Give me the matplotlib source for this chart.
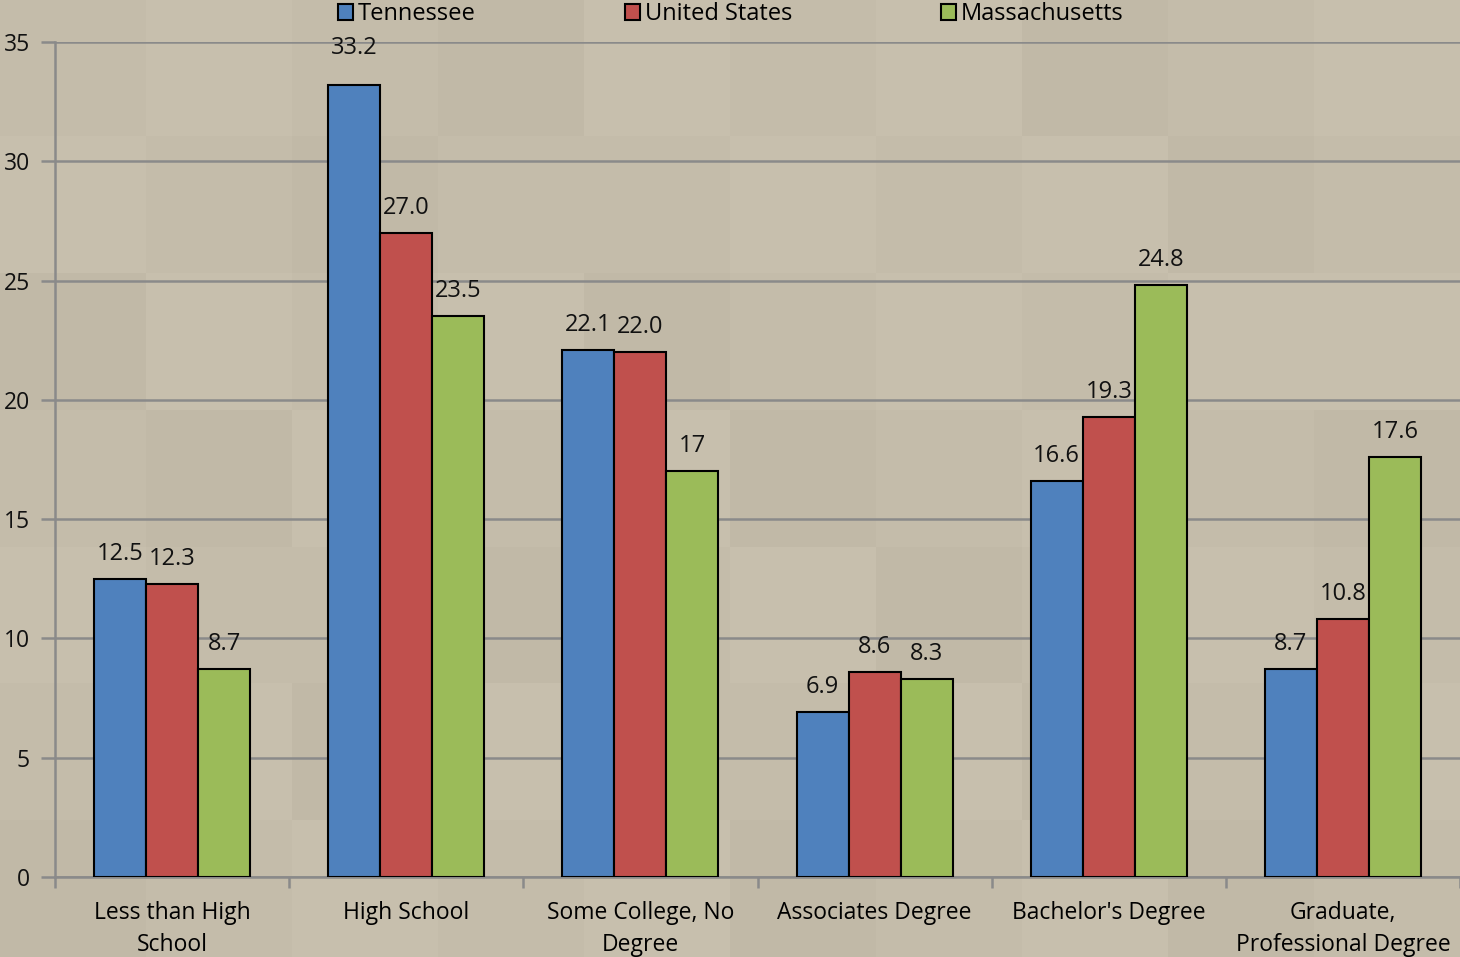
import matplotlib.pyplot as plt
import numpy as np
from matplotlib.colors import ListedColormap

plt.rcParams['font.family'] = ['Open Sans', 'DejaVu Sans']

categories = ["Less than High\nSchool", "High School", "Some College, No\nDegree",
              "Associates Degree", "Bachelor's Degree", "Graduate,\nProfessional Degree"]
tennessee = [12.5, 33.2, 22.1, 6.9, 16.6, 8.7]
united_states = [12.3, 27.0, 22.0, 8.6, 19.3, 10.8]
massachusetts = [8.7, 23.5, 17.0, 8.3, 24.8, 17.6]
tn_labels = ["12.5", "33.2", "22.1", "6.9", "16.6", "8.7"]
us_labels = ["12.3", "27.0", "22.0", "8.6", "19.3", "10.8"]
ma_labels = ["8.7", "23.5", "17", "8.3", "24.8", "17.6"]

bg = '#c4bcaa'
fig = plt.figure(figsize=(14.6, 9.57), dpi=100, facecolor=bg)

# faint tiled backdrop
bgax = fig.add_axes([0, 0, 1, 1], zorder=-10)
tiles = np.array([[0, 1, 0, 2, 1, 0, 1, 2, 0, 1],
                  [1, 0, 2, 0, 0, 1, 0, 1, 2, 0],
                  [2, 1, 0, 1, 2, 0, 1, 0, 1, 1],
                  [0, 2, 1, 0, 1, 2, 0, 1, 0, 2],
                  [1, 0, 0, 2, 0, 1, 2, 0, 1, 0],
                  [0, 1, 2, 1, 0, 0, 1, 2, 0, 1],
                  [2, 0, 1, 0, 1, 2, 0, 1, 2, 0]])
bgax.imshow(tiles, cmap=ListedColormap(['#c4bcaa', '#c7bfad', '#c1b9a7']),
            aspect='auto', interpolation='nearest', extent=[0, 1, 0, 1])
bgax.axis('off')

ax = fig.add_axes([55/1460, 1 - 877/957, 1405/1460, 835/957])
ax.patch.set_alpha(0)

ymax = 35
lift = 1.05        # label centre above bar top, data units
cap = 34.75        # labels near the top get pinned to the plot area edge

x = np.arange(len(categories))
w = 52/234
series = [(tennessee, tn_labels, '#4f81bd', 'Tennessee'),
          (united_states, us_labels, '#c0504d', 'United States'),
          (massachusetts, ma_labels, '#9bbb59', 'Massachusetts')]
for i, (vals, labs, col, name) in enumerate(series):
    pos = x + (i - 1) * w
    ax.bar(pos, vals, width=w, color=col, edgecolor='black', linewidth=1.5,
           label=name, zorder=3)
    for px, v, t in zip(pos, vals, labs):
        ly = v + lift
        if ly > ymax - 1:
            ly = cap
        ax.text(px, ly, t, ha='center', va='center',
                fontsize=17, color='#111111', zorder=4)

ax.set_xlim(-0.5, len(categories) - 0.5)
ax.set_ylim(0, ymax)
ax.set_yticks(range(0, 36, 5))
ax.yaxis.grid(True, color='#8a8a8a', linewidth=1.8, zorder=0)
ax.set_axisbelow(True)
for s in ['top', 'right']:
    ax.spines[s].set_visible(False)
for s in ['left', 'bottom']:
    ax.spines[s].set_color('#8a8a8a')
    ax.spines[s].set_linewidth(1.8)

ax.set_xticks(np.arange(-0.5, len(categories), 1))
ax.set_xticklabels([])
ax.set_xticks(x, minor=True)
ax.set_xticklabels(categories, minor=True, fontsize=16.5, linespacing=1.45)
ax.tick_params(axis='x', which='major', length=8, width=1.8, color='#8a8a8a')
ax.tick_params(axis='x', which='minor', length=0, pad=17.5)
ax.tick_params(axis='y', length=10, width=1.8, color='#8a8a8a', labelsize=16.5,
               pad=8, labelcolor='#111111')

leg = ax.legend(loc='lower left', bbox_to_anchor=(283/1405, 1.019), ncol=3, frameon=False,
                fontsize=17, handlelength=0.65, handleheight=0.65, handletextpad=0.2,
                columnspacing=6.3, borderaxespad=0.0, borderpad=0.0)
for h in leg.legend_handles:
    h.set_linewidth(1.5)

fig.savefig('out.png', dpi=100, facecolor=bg)
